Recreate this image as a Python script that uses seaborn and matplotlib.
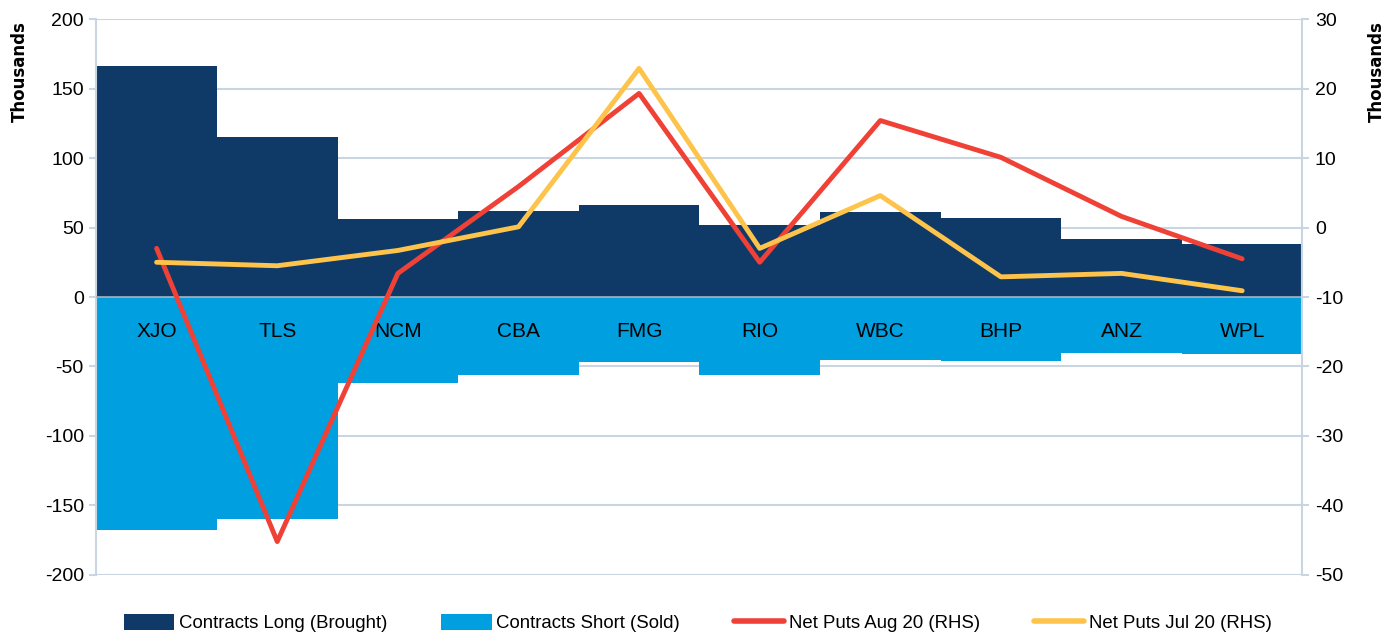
import matplotlib
matplotlib.use("Agg")
import matplotlib.pyplot as plt
from matplotlib.patches import Patch
from matplotlib.lines import Line2D
from matplotlib.ticker import MultipleLocator, FixedLocator
import numpy as np
import seaborn as sns

sns.set_style("white")
plt.rcParams['font.family'] = ['Liberation Sans Narrow', 'Liberation Sans', 'DejaVu Sans']
plt.rcParams['axes.unicode_minus'] = False

stocks = ["XJO", "TLS", "NCM", "CBA", "FMG", "RIO", "WBC", "BHP", "ANZ", "WPL"]
contracts_long = [166, 115, 56, 62, 66, 52, 61, 57, 42, 38]  # thousands
contracts_short = [-168, -160, -62, -56, -47, -56, -45, -46, -40, -41]
net_puts_aug = [-3.0, -45.2, -6.6, 5.9, 19.3, -5.0, 15.4, 10.1, 1.6, -4.5]  # RHS, thousands
net_puts_jul = [-5.0, -5.5, -3.3, 0.1, 22.9, -3.0, 4.6, -7.1, -6.6, -9.1]

navy = "#0f3a68"
sky = "#009fe0"
red = "#ef4136"
gold = "#fec34a"
grid_col = "#c9d5e1"

fig, ax = plt.subplots(figsize=(13.96, 6.36), dpi=100)
fig.subplots_adjust(left=0.069, right=0.933, top=0.970, bottom=0.096)

sns.barplot(x=stocks, y=contracts_long, color=navy, width=1.0, saturation=1, ax=ax, zorder=1)
sns.barplot(x=stocks, y=contracts_short, color=sky, width=1.0, saturation=1, ax=ax, zorder=1)
for p in ax.patches:
    p.set_edgecolor("none")

ax.set_ylim(-200, 200)
ax.set_xlim(-0.5, len(stocks) - 0.5)
ax.yaxis.set_major_locator(MultipleLocator(50))
# gridlines behind the bars, axis (labels) kept on top
ax.grid(False)
ax.set_axisbelow(False)
for yv in ax.get_yticks():
    ax.axhline(yv, color=grid_col, linewidth=1.5, zorder=0)

# category axis drawn along the zero line, Excel style
ax.spines["bottom"].set_position(("data", 0))
ax.spines["bottom"].set_color("#a6b4c2")
ax.spines["bottom"].set_linewidth(1.2)
ax.spines["top"].set_visible(False)
ax.spines["right"].set_visible(False)
ax.spines["left"].set_color(grid_col)
ax.spines["left"].set_linewidth(1.5)
ax.xaxis.set_minor_locator(FixedLocator(np.arange(-0.5, len(stocks), 1)))
ax.tick_params(axis="x", which="major", length=0, pad=18, labelsize=15, labelcolor="black")
ax.tick_params(axis="x", which="minor", length=6, color="#a6b4c2", width=1.2, direction="out")
ax.tick_params(axis="y", length=5, color=grid_col, width=1.5, labelsize=14, left=True, pad=4,
               labelcolor="black")
ax.set_xlabel("")
ax.set_ylabel("Thousands", fontsize=12, fontweight="bold", family=["DejaVu Sans"], color="black")
ax.yaxis.set_label_coords(-0.056, 0.905)

ax2 = ax.twinx()
sns.lineplot(x=stocks, y=net_puts_aug, color=red, linewidth=3.5, sort=False, ax=ax2)
sns.lineplot(x=stocks, y=net_puts_jul, color=gold, linewidth=3.5, sort=False, ax=ax2)
ax2.set_ylim(-50, 30)
ax2.yaxis.set_major_locator(MultipleLocator(10))
ax2.grid(False)
for s in ["top", "left", "bottom"]:
    ax2.spines[s].set_visible(False)
ax2.spines["right"].set_color(grid_col)
ax2.spines["right"].set_linewidth(1.5)
ax2.tick_params(axis="y", length=5, color=grid_col, width=1.5, labelsize=14, right=True, pad=4,
                labelcolor="black")
ax2.set_ylabel("Thousands", fontsize=12, fontweight="bold", family=["DejaVu Sans"], rotation=90,
               color="black")
ax2.yaxis.set_label_coords(1.054, 0.905)

handles = [
    Patch(facecolor=navy, edgecolor="none"),
    Patch(facecolor=sky, edgecolor="none"),
    Line2D([0], [0], color=red, linewidth=4, solid_capstyle="round"),
    Line2D([0], [0], color=gold, linewidth=4, solid_capstyle="round"),
]
labels = ["Contracts Long (Brought)", "Contracts Short (Sold)", "Net Puts Aug 20 (RHS)", "Net Puts Jul 20 (RHS)"]
leg = fig.legend(handles, labels, loc="center", bbox_to_anchor=(0.5, 0.02), ncol=4, frameon=False,
                 fontsize=13.4, handlelength=2.7, handleheight=0.9, handletextpad=0.25, columnspacing=2.9)
for t in leg.get_texts():
    t.set_color("black")

fig.savefig("out.png", dpi=100)
